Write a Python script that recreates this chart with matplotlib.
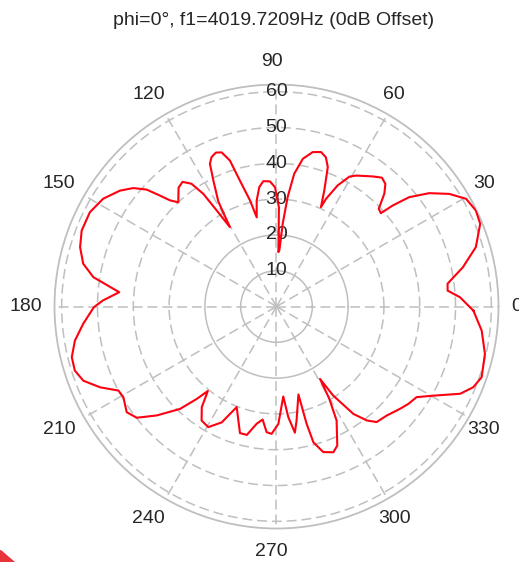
import numpy as np
import matplotlib
matplotlib.use("Agg")
import matplotlib.pyplot as plt
import matplotlib.transforms as mtransforms
from matplotlib.patches import Polygon

plt.rcParams["font.family"] = ["Liberation Sans", "DejaVu Sans"]

title = "phi=0°, f1=4019.7209Hz (0dB Offset)"

# pattern, in order along the curve
theta_deg = [
    358.8, 2.9, 5.3, 7.6, 11.9, 16.6, 22.1, 25.7, 29.6, 33.1, 36.6, 39.5, 41.0, 41.8, 43.7,
    46.3, 48.4, 50.7, 53.5, 58.7, 60.7, 63.2, 65.3, 65.9, 67.6, 69.8, 71.7, 73.9, 76.8,
    79.9, 82.4, 84.2, 85.7, 87.1, 88.0, 88.3, 88.6, 90.7, 93.0, 96.0, 98.2, 100.6, 102.5,
    104.0, 106.2, 107.7, 109.6, 111.5, 113.5, 115.0, 116.6, 119.0, 120.4,
    121.9, 123.0, 124.7, 127.0, 129.5, 133.3, 135.1, 136.4, 138.0, 140.4, 143.5, 148.1,
    153.2, 158.7, 163.2, 167.5, 170.9, 172.5, 174.8, 178.0, 180.2, 185.1, 189.6, 193.9,
    197.6, 201.0, 204.6, 208.0, 210.6, 215.2, 218.5, 222.3, 226.7, 229.2, 230.9,
    233.4, 236.7, 240.5, 244.7, 248.4, 253.9, 257.0, 260.4, 263.0, 265.5, 267.8, 270.9,
    274.3, 276.1, 278.3, 280.0, 284.0, 284.4, 285.2, 287.8, 291.3, 293.6, 297.8, 299.8,
    301.0, 302.5, 305.6, 308.4, 310.9, 315.3, 320.4, 323.6, 327.1, 330.4, 334.6, 337.7,
    341.0, 347.2, 353.3, 358.8,
]
gain_db = [
    55.0, 51.3, 48.0, 48.2, 53.2, 58.1, 61.4, 61.8, 60.9, 57.6, 53.1, 48.0, 43.0, 39.1, 39.5,
    43.6, 45.8, 46.5, 45.2, 42.8, 41.6, 37.9, 33.1, 30.4, 35.0, 41.5, 43.9, 44.9, 44.3,
    41.9, 37.4, 30.7, 23.2, 15.7, 15.2, 20.0, 27.7, 33.3, 35.0, 35.2, 33.7, 30.1, 25.5,
    30.5, 36.6, 42.8, 45.7, 46.2, 45.5, 44.0, 39.4, 33.5, 25.7,
    31.6, 37.5, 41.7, 43.6, 43.0, 40.0, 42.0, 44.9, 48.8, 51.9, 54.4, 57.0,
    58.4, 58.4, 57.3, 55.3, 51.8, 48.3, 44.1, 48.5, 51.0, 54.2, 57.1, 58.9,
    59.1, 57.8, 54.2, 50.0, 49.7, 51.2, 49.9, 45.2, 39.3, 34.1, 30.4,
    35.0, 38.1, 38.7, 35.8, 30.2, 36.8, 36.8, 33.2, 31.8, 35.2, 35.6, 32.8,
    25.2, 31.1, 35.6, 32.3, 25.3, 33.8, 39.3, 42.7, 43.7, 42.4, 36.0, 29.6,
    23.6, 29.5, 36.9, 40.6, 42.7, 43.3, 44.8, 45.8, 46.6, 50.4, 56.8, 59.4,
    60.6, 59.7, 57.7, 55.0,
]

r_max = 62
ring_ticks = [10, 20, 30, 40, 50, 60]
angle_ticks = list(range(0, 360, 30))

grid_col = "#bfbfbf"
text_col = "#262626"
dash = (0, (6.5, 3.2))

fig = plt.figure(figsize=(5.19, 5.62), dpi=100)
ax = fig.add_axes([0.105, 0.0596, 0.8555, 0.790], projection="polar")

ax.plot(np.radians(theta_deg), gain_db, color="#ff0010", lw=1.5, zorder=5)

ax.set_ylim(0, r_max)
ax.set_yticks(ring_ticks)
ax.set_yticklabels([])
ax.set_xticks(np.radians(angle_ticks))
ax.set_xticklabels([])
ax.tick_params(length=0)

ax.grid(True, color=grid_col, lw=1.1)
for v, gl in zip(ring_ticks, ax.yaxis.get_gridlines()):
    gl.set_linestyle("-" if v <= 20 else dash)
for gl in ax.xaxis.get_gridlines():
    gl.set_linestyle(dash)
ax.spines["polar"].set_color(grid_col)
ax.spines["polar"].set_linewidth(1.3)

for v in ring_ticks:
    ax.text(np.radians(90), v, str(v), ha="center", va="center",
            fontsize=14, color=text_col, zorder=4)

shift = mtransforms.offset_copy(ax.transData, fig=fig, x=-5, y=0, units="dots")
for a in angle_ticks:
    ax.text(np.radians(a), r_max * 1.105, str(a), ha="center", va="center",
            fontsize=14, color=text_col, transform=shift, clip_on=False)

fig.text(0.527, 0.964, title, ha="center", va="center", fontsize=14, color=text_col)

# red corner from the screenshot
fig.patches.append(Polygon([(0, 12 / 562), (0, 0), (14 / 519, 0)], closed=True,
                           transform=fig.transFigure, color="#e8323c"))

fig.savefig("out.png", dpi=100)
